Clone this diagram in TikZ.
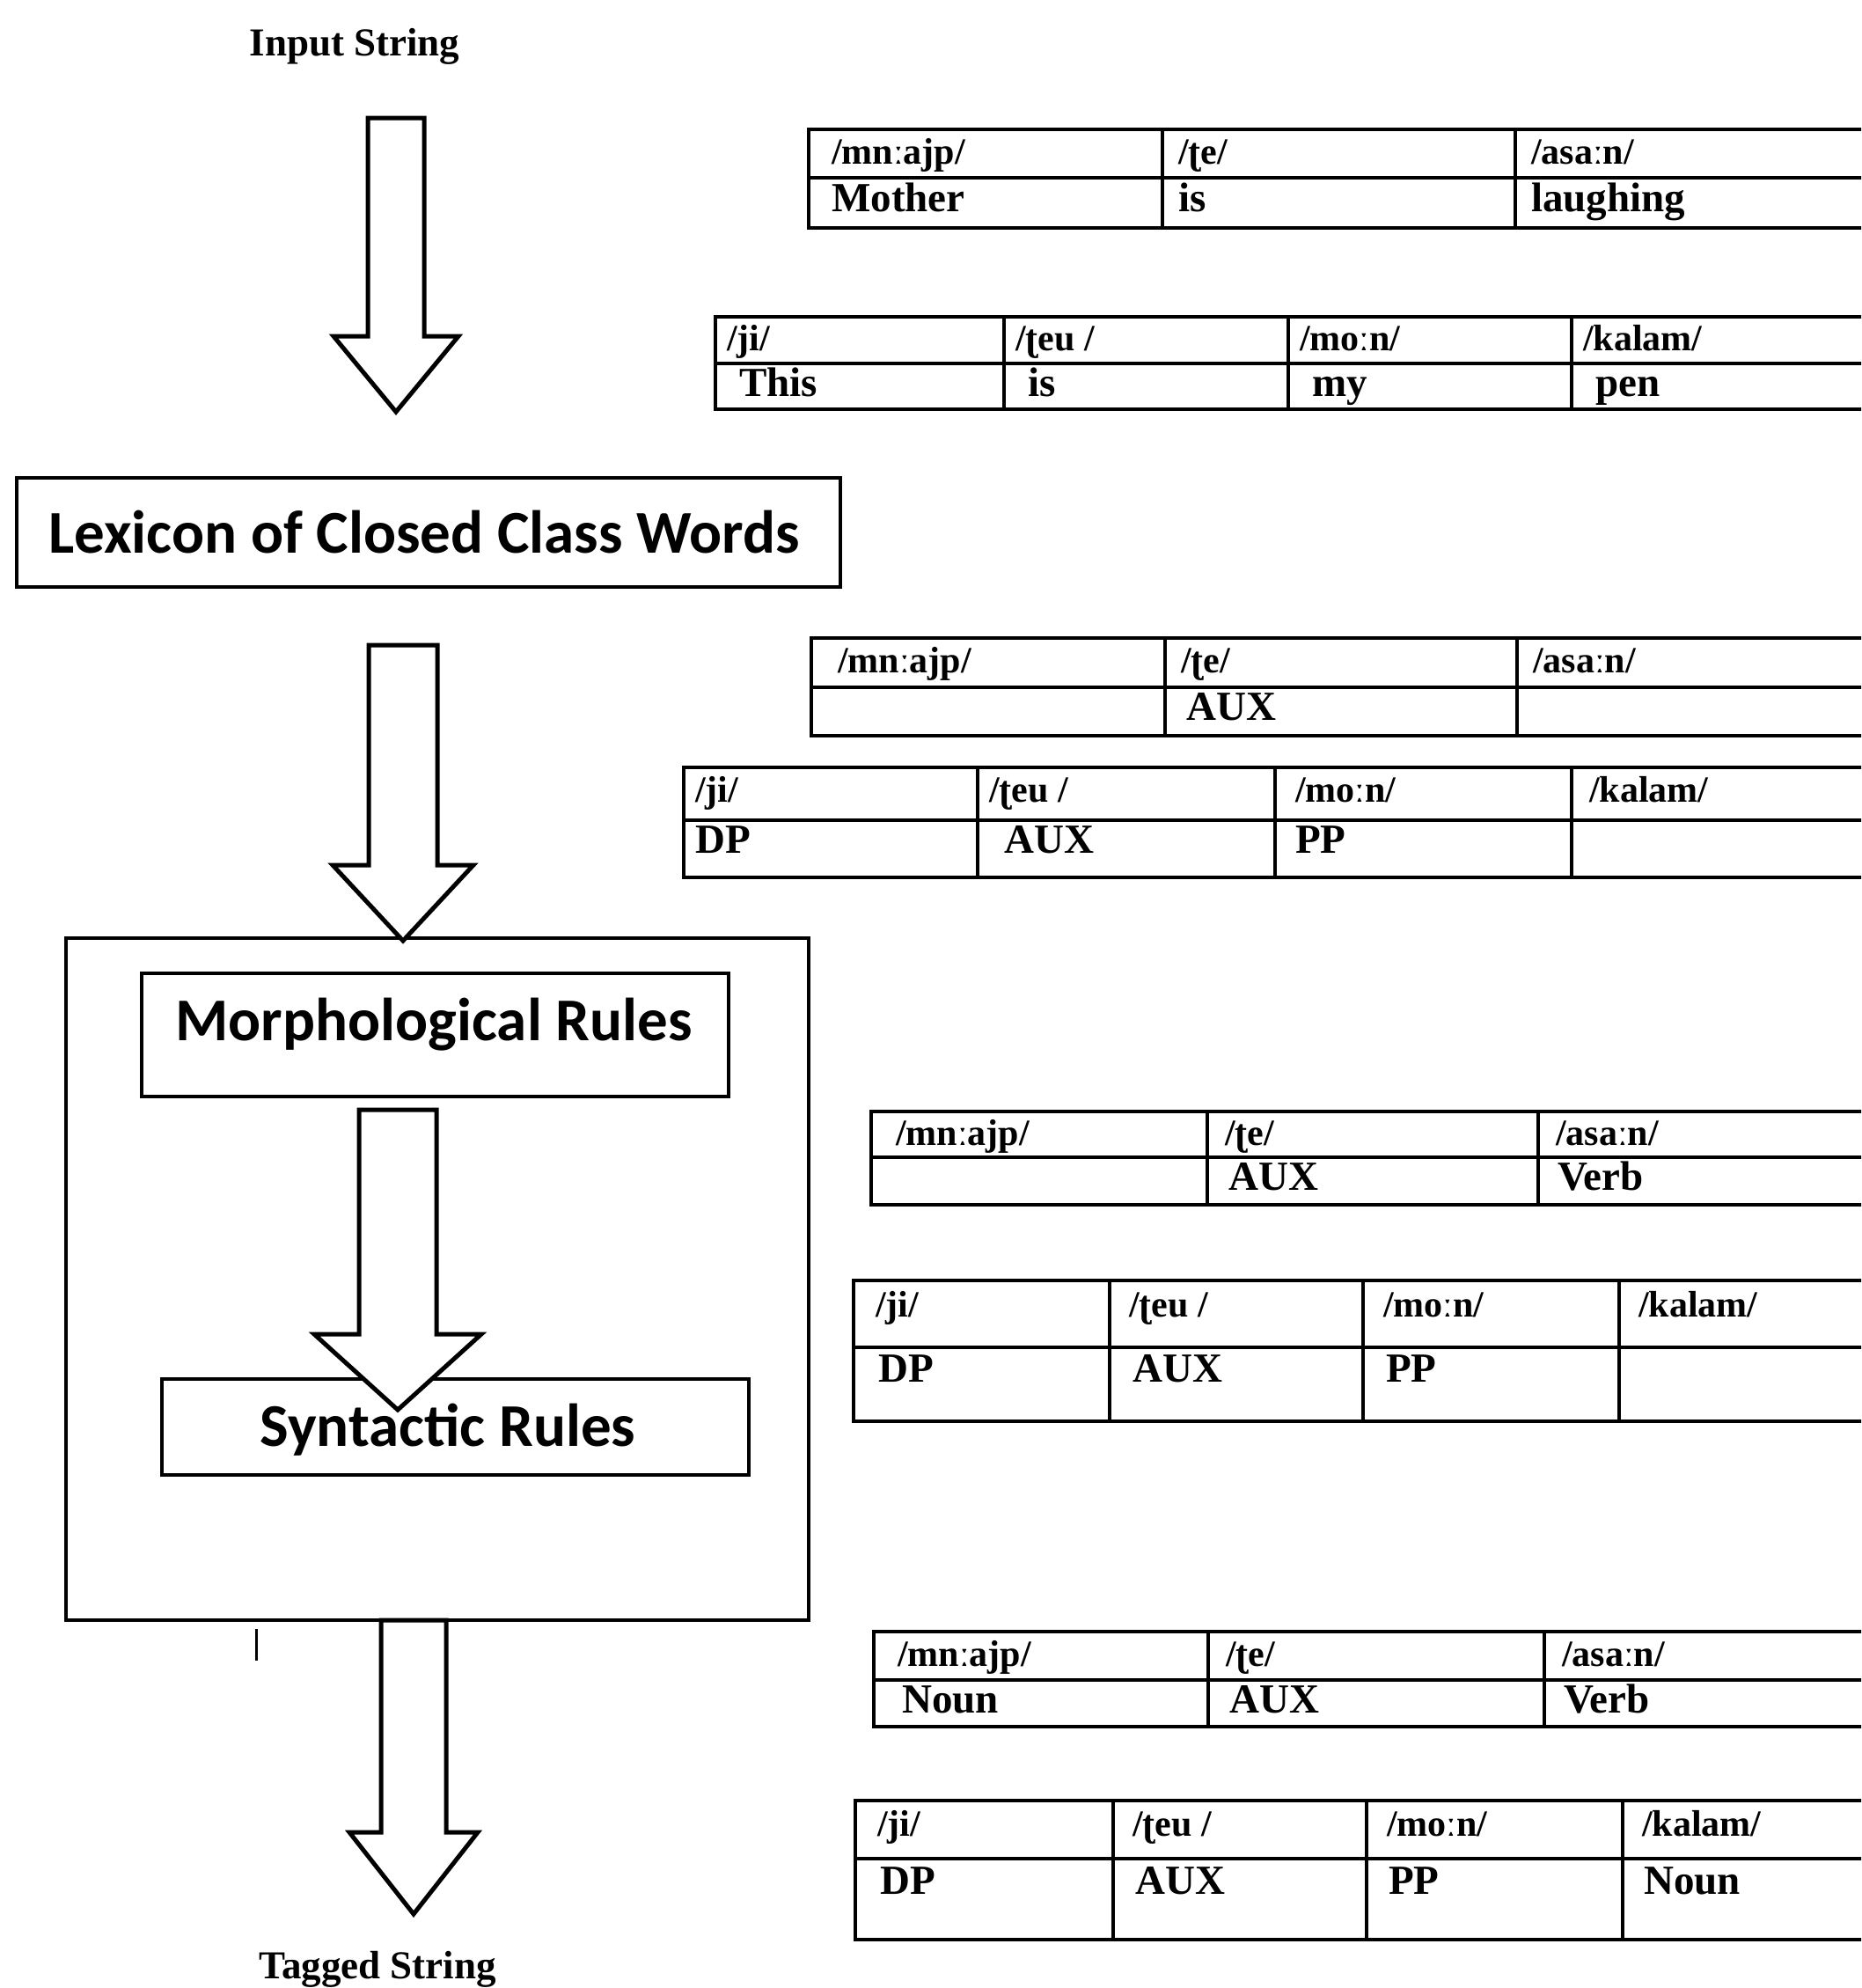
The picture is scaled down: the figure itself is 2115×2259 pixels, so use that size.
\documentclass[tikz,border=0pt]{standalone}
\usepackage{fontspec}
\setmainfont{Liberation Serif}
\newfontfamily\calib{Carlito}
\newcommand\blockarr[6]{% cx, ytop, halfshaft, halfhead, yheadtop, ytip
  \draw[arr] (#1-#3,#2) -- (#1+#3,#2) -- (#1+#3,#5) -- (#1+#4,#5) -- (#1,#6) -- (#1-#4,#5) -- (#1-#3,#5) -- cycle;}
\begin{document}
\begin{tikzpicture}[x=1pt,y=-1pt,
  tabline/.style={line width=4.5pt},
  boxline/.style={draw, line width=4pt, inner sep=0pt},
  arr/.style={draw, fill=white, line width=5pt, line join=miter},
  cell/.style={anchor=north west, inner sep=0pt, font=\bfseries\fontsize{47}{50}\selectfont, text height=34pt, text depth=10pt},
  ipa/.style={cell, font=\bfseries\fontsize{42}{46}\selectfont},
  lbl/.style={font=\calib\bfseries\fontsize{69}{76}\selectfont, inner sep=0pt},
  endlbl/.style={font=\bfseries\fontsize{45}{48}\selectfont, inner sep=0pt}]
\useasboundingbox (0,0) rectangle (2115,2259);
\clip (0,0) rectangle (2115,2259);

% ---------- left flow ----------
\node[endlbl] (input) at (403,53) {Input String};
\node[boxline, minimum width=936pt, minimum height=124pt] (lex) at (487,605) {};
\node[lbl] (lextext) at (482,605) {Lexicon of Closed Class Words};
\node[boxline, minimum width=844pt, minimum height=775pt] (rules) at (497,1453.5) {};
\node[boxline, minimum width=667pt, minimum height=140pt] (morph) at (494.5,1176) {};
\node[lbl] (morphtext) at (493,1164) {Morphological Rules};
\node[boxline, minimum width=667pt, minimum height=109pt] (syn) at (517.5,1621.5) {};
\node[lbl] (syntext) at (509,1625) {Syntactic Rules};
\node[endlbl] (tagged) at (429,2238) {Tagged String};

\blockarr{450}{134}{32}{71}{382}{468}
\blockarr{458}{733}{39}{80}{983}{1069}
\blockarr{452}{1261}{44}{95}{1516}{1602}
\blockarr{470}{1841}{37}{73}{2082}{2175}

\draw[line width=3pt] (291,1851) -- (291,1887);

% ---------- T1 ----------
\draw[tabline] (919,147) rectangle (2130,259) (919,202) -- (2130,202)
  (1321,147) -- (1321,259) (1722,147) -- (1722,259);
\node[ipa]  (t1a) at (945,152) {/mnːajp/};
\node[ipa]  (t1b) at (1339,152) {/ʈe/};
\node[ipa]  (t1c) at (1740,152) {/asaːn/};
\node[cell] (t1d) at (945,206) {Mother};
\node[cell] (t1e) at (1339,206) {is};
\node[cell] (t1f) at (1740,206) {laughing};

% ---------- T2 ----------
\draw[tabline] (813,360) rectangle (2130,465) (813,413) -- (2130,413)
  (1141,360) -- (1141,465) (1464,360) -- (1464,465) (1786,360) -- (1786,465);
\node[ipa]  (t2a) at (826,364) {/ji/};
\node[ipa]  (t2b) at (1154,364) {/ʈeu /};
\node[ipa]  (t2c) at (1477,364) {/moːn/};
\node[ipa]  (t2d) at (1799,364) {/kalam/};
\node[cell] (t2e) at (840,416) {This};
\node[cell] (t2f) at (1168,416) {is};
\node[cell] (t2g) at (1491,416) {my};
\node[cell] (t2h) at (1813,416) {pen};

% ---------- T3 ----------
\draw[tabline] (922,725) rectangle (2130,836) (922,781) -- (2130,781)
  (1324,725) -- (1324,836) (1724,725) -- (1724,836);
\node[ipa]  (t3a) at (952,730) {/mnːajp/};
\node[ipa]  (t3b) at (1342,730) {/ʈe/};
\node[ipa]  (t3c) at (1742,730) {/asaːn/};
\node[cell] (t3d) at (1348,784) {AUX};

% ---------- T4 ----------
\draw[tabline] (777,872) rectangle (2130,997) (777,932) -- (2130,932)
  (1111,872) -- (1111,997) (1449,872) -- (1449,997) (1786,872) -- (1786,997);
\node[ipa]  (t4a) at (790,877) {/ji/};
\node[ipa]  (t4b) at (1124,877) {/ʈeu /};
\node[ipa]  (t4c) at (1472,877) {/moːn/};
\node[ipa]  (t4d) at (1806,877) {/kalam/};
\node[cell] (t4e) at (790,935) {DP};
\node[cell] (t4f) at (1141,935) {AUX};
\node[cell] (t4g) at (1472,935) {PP};

% ---------- T5 ----------
\draw[tabline] (990,1263) rectangle (2130,1369) (990,1315) -- (2130,1315)
  (1372,1263) -- (1372,1369) (1748,1263) -- (1748,1369);
\node[ipa]  (t5a) at (1018,1267) {/mnːajp/};
\node[ipa]  (t5b) at (1392,1267) {/ʈe/};
\node[ipa]  (t5c) at (1768,1267) {/asaːn/};
\node[cell] (t5d) at (1396,1318) {AUX};
\node[cell] (t5e) at (1770,1318) {Verb};

% ---------- T6 ----------
\draw[tabline] (970,1455) rectangle (2130,1615) (970,1531) -- (2130,1531)
  (1261,1455) -- (1261,1615) (1549,1455) -- (1549,1615) (1840,1455) -- (1840,1615);
\node[ipa]  (t6a) at (995,1462) {/ji/};
\node[ipa]  (t6b) at (1283,1462) {/ʈeu /};
\node[ipa]  (t6c) at (1572,1462) {/moːn/};
\node[ipa]  (t6d) at (1862,1462) {/kalam/};
\node[cell] (t6e) at (998,1536) {DP};
\node[cell] (t6f) at (1287,1536) {AUX};
\node[cell] (t6g) at (1575,1536) {PP};

% ---------- T7 ----------
\draw[tabline] (993,1854) rectangle (2130,1962) (993,1909) -- (2130,1909)
  (1373,1854) -- (1373,1962) (1755,1854) -- (1755,1962);
\node[ipa]  (t7a) at (1020,1859) {/mnːajp/};
\node[ipa]  (t7b) at (1393,1859) {/ʈe/};
\node[ipa]  (t7c) at (1775,1859) {/asaːn/};
\node[cell] (t7d) at (1025,1912) {Noun};
\node[cell] (t7e) at (1397,1912) {AUX};
\node[cell] (t7f) at (1777,1912) {Verb};

% ---------- T8 ----------
\draw[tabline] (972,2046) rectangle (2130,2204) (972,2112) -- (2130,2112)
  (1265,2046) -- (1265,2204) (1553,2046) -- (1553,2204) (1844,2046) -- (1844,2204);
\node[ipa]  (t8a) at (997,2052) {/ji/};
\node[ipa]  (t8b) at (1287,2052) {/ʈeu /};
\node[ipa]  (t8c) at (1576,2052) {/moːn/};
\node[ipa]  (t8d) at (1866,2052) {/kalam/};
\node[cell] (t8e) at (1000,2118) {DP};
\node[cell] (t8f) at (1290,2118) {AUX};
\node[cell] (t8g) at (1578,2118) {PP};
\node[cell] (t8h) at (1868,2118) {Noun};
\end{tikzpicture}
\end{document}
